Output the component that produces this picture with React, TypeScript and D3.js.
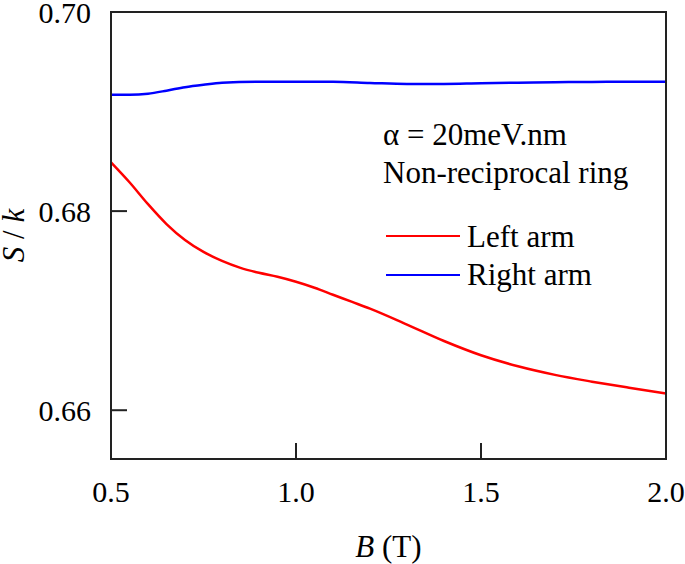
import React from "react";
import * as d3 from "d3";

const leftB = [0.5, 0.55, 0.6, 0.65, 0.7, 0.75, 0.8, 0.85, 0.9, 0.95, 1.0, 1.05, 1.1, 1.15, 1.2, 1.3, 1.4, 1.5, 1.6, 1.7, 1.8, 1.9, 2.0];
const leftS = [0.6849, 0.6829, 0.6807, 0.6787, 0.6771, 0.6759, 0.675, 0.6743, 0.6738, 0.6734, 0.6729, 0.6723, 0.6716, 0.6709, 0.6702, 0.6686, 0.66695, 0.66552, 0.66441, 0.66355, 0.66287, 0.66226, 0.66168];
const rightB = [0.5, 0.55, 0.6, 0.65, 0.7, 0.75, 0.8, 0.9, 1.0, 1.1, 1.2, 1.3, 1.4, 1.5, 1.6, 1.7, 1.8, 1.9, 2.0];
const rightS = [0.6917, 0.6917, 0.6918, 0.6921, 0.69245, 0.6927, 0.6929, 0.693, 0.693, 0.693, 0.69288, 0.69277, 0.69278, 0.69285, 0.6929, 0.69295, 0.69298, 0.693, 0.693];
const xTicks = [0.5, 1.0, 1.5, 2.0];
const yTicks = [0.66, 0.68, 0.7];
const legendLabels = ["Left arm", "Right arm"];
const colors = ["#ff0000", "#0000ff"];

const W = 685, H = 564;
const L = 111, R = 666, T = 12, B = 459;
const font = "'Liberation Serif', 'Times New Roman', Times, serif";
const ts = (size: number) => ({ fontFamily: font, fontSize: size + "px" });

export default function App() {
  const x = d3.scaleLinear().domain([0.5, 2.0]).range([L, R]);
  const y = d3.scaleLinear().domain([0.6551, 0.7]).range([B, T]);
  const line = d3.line<[number, number]>().x(d => x(d[0])).y(d => y(d[1])).curve(d3.curveMonotoneX);
  const leftPts = leftB.map((b, i) => [b, leftS[i]] as [number, number]);
  const rightPts = rightB.map((b, i) => [b, rightS[i]] as [number, number]);
  const axisColor = "#222";
  return (
    <svg width={W} height={H} style={{ position: "absolute", left: 0, top: 0, background: "#fff" }}>
      <path d={line(leftPts) || ""} fill="none" stroke={colors[0]} strokeWidth={2.5} />
      <path d={line(rightPts) || ""} fill="none" stroke={colors[1]} strokeWidth={2.5} />
      <rect x={L} y={T} width={R - L} height={B - T} fill="none" stroke={axisColor} strokeWidth={2} />
      {xTicks.map(t => (
        <g key={"x" + t}>
          <line x1={x(t)} x2={x(t)} y1={B} y2={B - 16} stroke={axisColor} strokeWidth={2} />
          <text x={x(t)} y={502} style={ts(30)} textAnchor="middle" fill="#000">{t.toFixed(1)}</text>
        </g>
      ))}
      {yTicks.map(t => (
        <g key={"y" + t}>
          <line x1={L} x2={L + 16} y1={y(t)} y2={y(t)} stroke={axisColor} strokeWidth={2} />
          <text x={91} y={y(t)} dy="0.35em" style={ts(30)} textAnchor="end" fill="#000">{t.toFixed(2)}</text>
        </g>
      ))}
      <text x={(L + R) / 2} y={557} style={ts(31)} textAnchor="middle" fill="#000">
        <tspan fontStyle="italic">B</tspan> (T)
      </text>
      <text transform={`translate(24,${(T + B) / 2}) rotate(-90)`} style={ts(31)} textAnchor="middle" fill="#000">
        <tspan fontStyle="italic">S</tspan> / <tspan fontStyle="italic">k</tspan>
      </text>
      <text x={383} y={145} style={ts(31)} fill="#000">α = 20meV.nm</text>
      <text x={383} y={183} style={ts(31)} fill="#000">Non-reciprocal ring</text>
      {legendLabels.map((lab, i) => (
        <g key={lab}>
          <line x1={386} x2={460} y1={236 + i * 39} y2={236 + i * 39} stroke={colors[i]} strokeWidth={2} />
          <text x={467} y={247 + i * 38} style={ts(31)} fill="#000">{lab}</text>
        </g>
      ))}
    </svg>
  );
}
